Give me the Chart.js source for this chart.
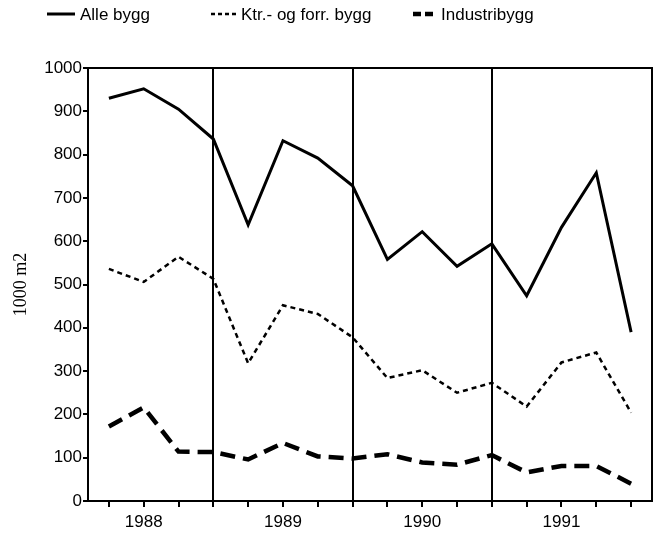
<!DOCTYPE html>
<html lang="no">
<head>
    <meta charset="UTF-8">
    <title>Bygg</title>
    <script src="https://cdn.jsdelivr.net/npm/chart.js"></script>
    <style>
        body {
            margin: 0;
            padding: 0;
            background: #fff;
        }

        .chart-box {
            width: 661px;
            height: 538px;
        }
    </style>
</head>
<body>
    <div class="chart-box">
        <canvas id="byggChart"></canvas>
    </div>

    <script>
        // kvartaler 1988-1991
        const quarters = ['1988 K1', '1988 K2', '1988 K3', '1988 K4',
                          '1989 K1', '1989 K2', '1989 K3', '1989 K4',
                          '1990 K1', '1990 K2', '1990 K3', '1990 K4',
                          '1991 K1', '1991 K2', '1991 K3', '1991 K4'];
        const yearLabels = ['1988', '1989', '1990', '1991'];

        const alleBygg = [930, 952, 905, 836, 638, 832, 792, 728, 558, 622, 542, 594, 474, 632, 758, 390];
        const kontorBygg = [536, 506, 564, 513, 318, 452, 432, 378, 284, 302, 250, 273, 218, 320, 343, 204];
        const industriBygg = [172, 216, 114, 113, 96, 134, 103, 98, 108, 89, 84, 106, 66, 81, 81, 40];

        const yTicks = [0, 100, 200, 300, 400, 500, 600, 700, 800, 900, 1000];
        const legendNames = ['Alle bygg', 'Ktr.- og forr. bygg', 'Industribygg'];

        const sansFont = '"Liberation Sans", Arial, sans-serif';
        const toPoints = arr => arr.map((v, i) => ({ x: i, y: v }));

        // ramme + legende over plottet
        const framePlugin = {
            id: 'frame',
            afterDraw(chart) {
                const { ctx, chartArea } = chart;
                ctx.save();
                ctx.strokeStyle = '#000';
                ctx.lineWidth = 2;
                ctx.strokeRect(chartArea.left, chartArea.top, chartArea.right - chartArea.left, chartArea.bottom - chartArea.top);

                ctx.font = '17px ' + sansFont;
                ctx.fillStyle = '#000';
                ctx.textBaseline = 'middle';
                const items = [
                    { x1: 47, x2: 75, tx: 80, ds: chart.data.datasets[0] },
                    { x1: 211, x2: 236, tx: 241, ds: chart.data.datasets[1] },
                    { x1: 413, x2: 433, tx: 441, ds: chart.data.datasets[2] }
                ];
                items.forEach(it => {
                    ctx.beginPath();
                    ctx.lineWidth = it.ds.borderWidth;
                    ctx.setLineDash(it.ds.legendDash || []);
                    ctx.moveTo(it.x1, 14);
                    ctx.lineTo(it.x2, 14);
                    ctx.stroke();
                    ctx.setLineDash([]);
                    ctx.fillText(it.ds.label, it.tx, 15);
                });
                ctx.restore();
            }
        };

        const ctx = document.getElementById('byggChart').getContext('2d');
        new Chart(ctx, {
            type: 'line',
            data: {
                datasets: [{
                    label: legendNames[0],
                    data: toPoints(alleBygg),
                    borderColor: '#000',
                    borderWidth: 3,
                    pointRadius: 0,
                    tension: 0
                }, {
                    label: legendNames[1],
                    data: toPoints(kontorBygg),
                    borderColor: '#000',
                    borderWidth: 2.5,
                    borderDash: [5, 4],
                    legendDash: [4, 3],
                    pointRadius: 0,
                    tension: 0
                }, {
                    label: legendNames[2],
                    data: toPoints(industriBygg),
                    borderColor: '#000',
                    borderWidth: 4.5,
                    borderDash: [15, 8],
                    legendDash: [8, 4],
                    pointRadius: 0,
                    tension: 0
                }]
            },
            options: {
                responsive: true,
                maintainAspectRatio: false,
                animation: false,
                layout: {
                    padding: { top: 68, right: 9, left: 0, bottom: 0 }
                },
                plugins: {
                    legend: { display: false },
                    tooltip: { enabled: false }
                },
                scales: {
                    x: {
                        type: 'linear',
                        min: -0.6,
                        max: 15.6,
                        afterBuildTicks: scale => {
                            scale.ticks = quarters.map((q, i) => ({ value: i }));
                        },
                        afterFit: scale => { scale.height = 37; },
                        border: { color: '#000', width: 2 },
                        grid: {
                            color: c => (c.tick && c.tick.value % 4 === 3 && c.tick.value < 15) ? '#000' : 'rgba(0,0,0,0)',
                            lineWidth: 2,
                            tickColor: '#000',
                            tickLength: 6,
                            drawOnChartArea: true
                        },
                        ticks: {
                            autoSkip: false,
                            maxRotation: 0,
                            color: '#000',
                            padding: 5,
                            font: { family: sansFont, size: 17 },
                            callback: v => (v % 4 === 1) ? yearLabels[(v - 1) / 4] : ''
                        }
                    },
                    y: {
                        min: 0,
                        max: 1000,
                        afterBuildTicks: scale => {
                            scale.ticks = yTicks.map(v => ({ value: v }));
                        },
                        afterFit: scale => { scale.width = 88; },
                        border: { color: '#000', width: 2 },
                        grid: {
                            drawOnChartArea: false,
                            tickColor: '#000',
                            tickLength: 5,
                            lineWidth: 2
                        },
                        ticks: {
                            color: '#000',
                            padding: 1,
                            font: { family: sansFont, size: 17 },
                            callback: v => String(v)
                        },
                        title: {
                            display: true,
                            text: '1000 m2',
                            color: '#000',
                            font: { family: '"Liberation Serif", "Times New Roman", serif', size: 18 },
                            padding: { top: 10, bottom: 0 }
                        }
                    }
                }
            },
            plugins: [framePlugin]
        });
    </script>
</body>
</html>
